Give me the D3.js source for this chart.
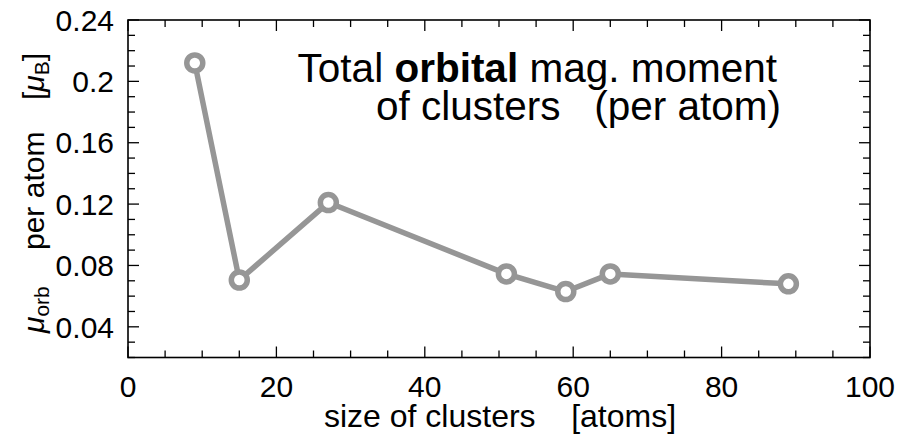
<!DOCTYPE html>
<html>
<head>
<meta charset="utf-8">
<script src="https://cdn.jsdelivr.net/npm/d3@7"></script>
<style>
  html, body { margin: 0; padding: 0; background: #fff; }
  svg { display: block; }
  text { font-family: "Liberation Sans", Arial, sans-serif; fill: #000; }
</style>
</head>
<body>
<svg id="chart" width="913" height="436"></svg>
<script>
// ---- data ----
const clusterSizes = [9, 15, 27, 51, 59, 65, 89];
const orbMoments   = [0.212, 0.0705, 0.121, 0.0745, 0.063, 0.0745, 0.068];
const xTickValues  = [0, 20, 40, 60, 80, 100];
const xTickLabels  = ["0", "20", "40", "60", "80", "100"];
const yTickValues  = [0.04, 0.08, 0.12, 0.16, 0.20, 0.24];
const yTickLabels  = ["0.04", "0.08", "0.12", "0.16", "0.2", "0.24"];

const L = 128, R = 870, T = 20, B = 357.5;
const svg = d3.select("#chart");

const x = d3.scaleLinear().domain([0, 100]).range([L, R]);
const y = d3.scaleLinear().domain([0.02, 0.24]).range([B, T]);

const xMinor = d3.range(0, 100.001, 5);
const yMinor = d3.range(0.02, 0.2401, 0.01);
const MAJ = 11, MIN = 7;

const tickG = svg.append("g").attr("stroke", "#000").attr("stroke-width", 1.3);
xMinor.forEach(v => {
  const isMaj = Math.abs(v % 20) < 1e-6;
  const len = isMaj ? MAJ : MIN;
  tickG.append("line").attr("x1", x(v)).attr("x2", x(v)).attr("y1", B).attr("y2", B - len);
  tickG.append("line").attr("x1", x(v)).attr("x2", x(v)).attr("y1", T).attr("y2", T + len);
});
yMinor.forEach(v => {
  const isMaj = yTickValues.some(t => Math.abs(t - v) < 1e-6);
  const len = isMaj ? MAJ : MIN;
  tickG.append("line").attr("y1", y(v)).attr("y2", y(v)).attr("x1", L).attr("x2", L + len);
  tickG.append("line").attr("y1", y(v)).attr("y2", y(v)).attr("x1", R).attr("x2", R - len);
});

svg.append("rect").attr("x", L).attr("y", T).attr("width", R - L).attr("height", B - T)
  .attr("fill", "none").attr("stroke", "#000").attr("stroke-width", 1.6);

function stext(px, py, anchor, size, rot) {
  return svg.append("text")
    .attr("transform", `translate(${px},${py})` + (rot ? ` rotate(${rot})` : ""))
    .attr("text-anchor", anchor).attr("font-size", size);
}

// tick labels
xTickValues.forEach((v, i) => {
  stext(x(v), 397, "middle", 30).text(xTickLabels[i]);
});
yTickValues.forEach((v, i) => {
  stext(114, y(v) + 10.7, "end", 30).text(yTickLabels[i]);
});

// x axis title
stext(500, 427, "middle", 32).text("size of clusters\u00a0\u00a0\u00a0\u00a0[atoms]");

// y axis title (rotated pieces)
const p1 = stext(44, 333, "start", 30, -90);
p1.append("tspan").attr("font-style", "italic").text("\u03bc");
p1.append("tspan").attr("font-size", 21).attr("dy", 5).text("orb");
stext(44, 250, "start", 30, -90).text("per atom");
const p3 = stext(44, 100, "start", 30, -90);
p3.append("tspan").text("[");
p3.append("tspan").attr("font-style", "italic").text("\u03bc");
p3.append("tspan").attr("font-size", 21).attr("dy", 5).text("B");
p3.append("tspan").attr("dy", -5).text("]");

// title
const t1 = stext(777, 82, "end", 40.5);
t1.append("tspan").text("Total ");
t1.append("tspan").attr("font-weight", "bold").text("orbital");
t1.append("tspan").text(" mag. moment");
stext(781, 120, "end", 40.5).text("of clusters\u00a0\u00a0\u00a0(per atom)");

// line + markers
const pts = clusterSizes.map((s, i) => [s, orbMoments[i]]);
svg.append("path").datum(pts)
  .attr("fill", "none").attr("stroke", "#969696").attr("stroke-width", 5.5)
  .attr("stroke-linejoin", "round")
  .attr("d", d3.line().x(d => x(d[0])).y(d => y(d[1])));
svg.selectAll("circle.pt").data(pts).enter().append("circle")
  .attr("class", "pt")
  .attr("cx", d => x(d[0])).attr("cy", d => y(d[1])).attr("r", 8)
  .attr("fill", "#fff").attr("stroke", "#969696").attr("stroke-width", 5.5);
</script>
</body>
</html>
